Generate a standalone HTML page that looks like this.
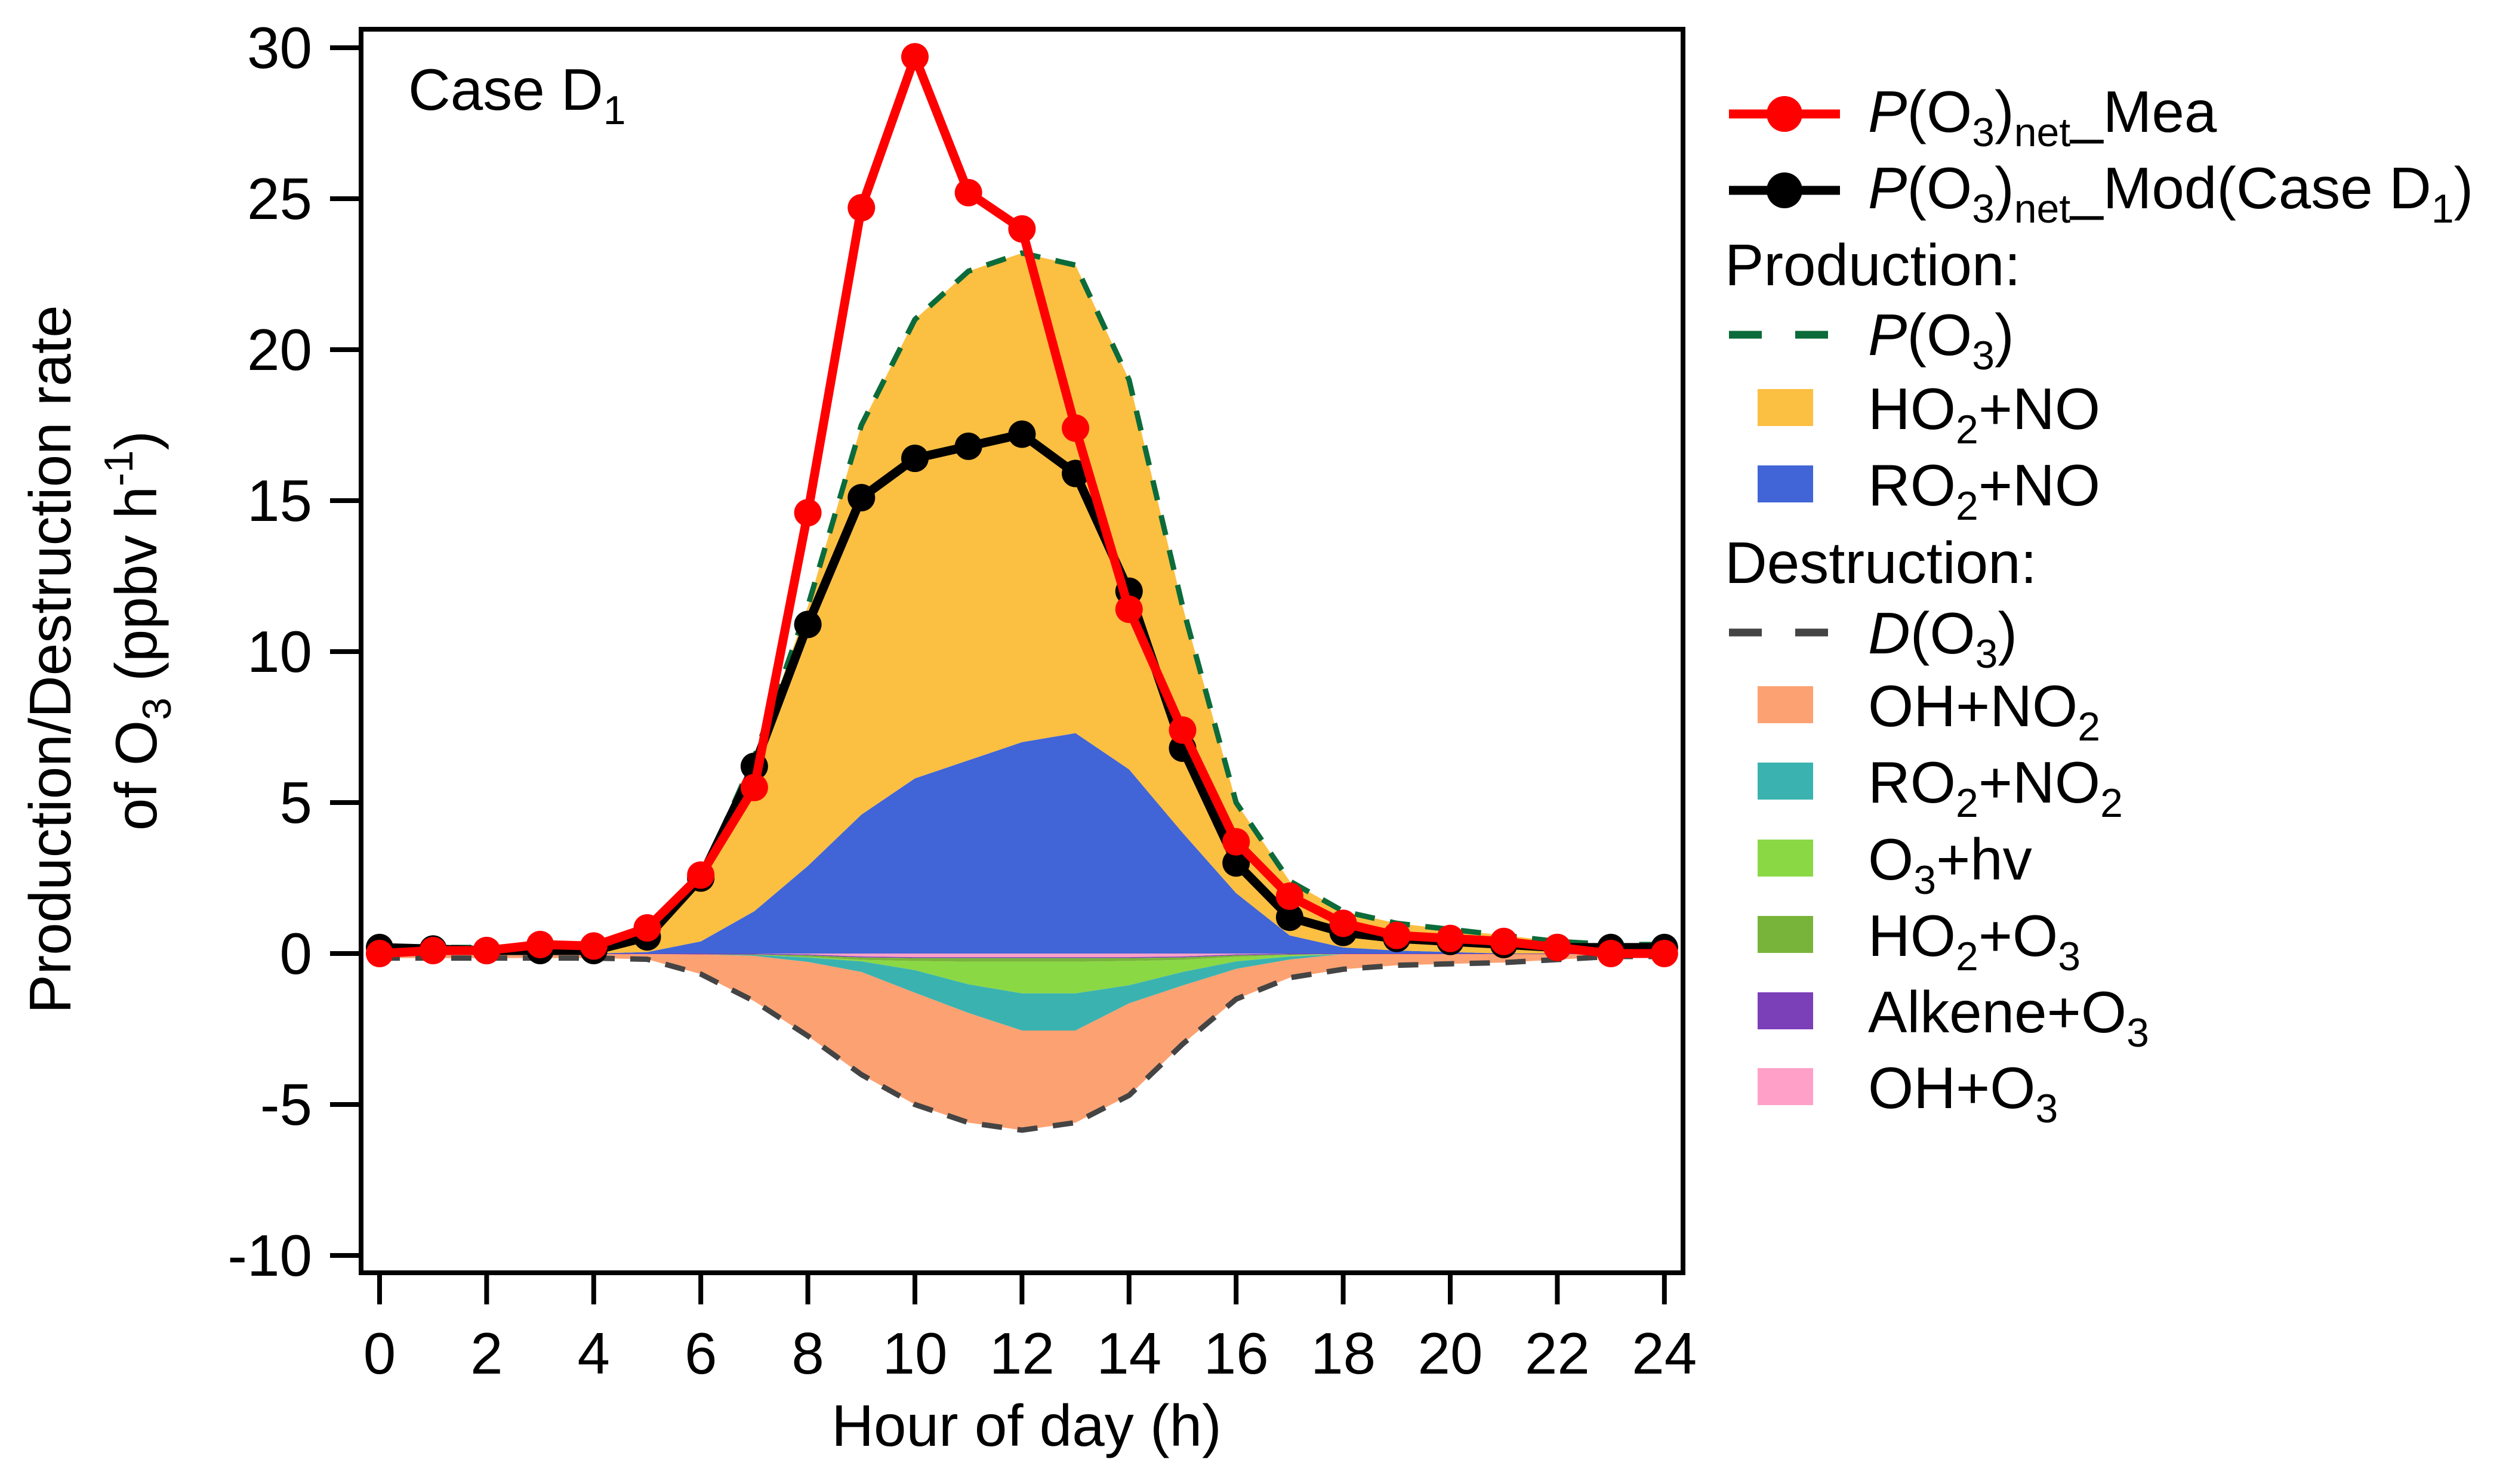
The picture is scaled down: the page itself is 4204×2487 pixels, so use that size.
<!DOCTYPE html>
<html><head><meta charset="utf-8"><style>
html,body{margin:0;padding:0;background:#fff}
svg text{font-family:"Liberation Sans",Arial,sans-serif;fill:#000}
</style></head><body>
<svg id="chart" width="4204" height="2482" viewBox="0 0 4204 2482" xmlns="http://www.w3.org/2000/svg">
<g id="plot"></g>
<g id="axes"></g>
<g id="legend"></g>
</svg>
<script>
const hours = [0,1,2,3,4,5,6,7,8,9,10,11,12,13,14,15,16,17,18,19,20,21,22,23,24];
const mea = [0,0.1,0.1,0.3,0.25,0.85,2.6,5.5,14.6,24.7,29.7,25.2,24.0,17.4,11.4,7.4,3.7,1.9,1.0,0.6,0.5,0.4,0.2,0,0];
const mod = [0.2,0.15,0.1,0.1,0.1,0.55,2.5,6.2,10.9,15.1,16.4,16.8,17.2,15.9,12.0,6.8,3.0,1.2,0.7,0.5,0.4,0.3,0.2,0.2,0.2];
const ro2no = [0,0,0,0,0,0.05,0.4,1.4,2.9,4.6,5.8,6.4,7.0,7.3,6.1,4.0,2.0,0.6,0.2,0.1,0.05,0,0,0,0];
const ho2no = [0.2,0.2,0.2,0.2,0.2,0.55,2.1,5.1,8.6,12.9,15.2,16.2,16.2,15.5,12.9,7.5,3.0,1.8,1.2,0.9,0.75,0.6,0.4,0.3,0.3];
const ohO3 = [0,0,0,0,0,0,0,0,0.03,0.1,0.12,0.12,0.12,0.12,0.12,0.1,0.03,0,0,0,0,0,0,0,0];
const alkO3 = [0.02,0.02,0.02,0.02,0.02,0.02,0.03,0.03,0.03,0.03,0.03,0.03,0.03,0.03,0.03,0.03,0.03,0.03,0.02,0.02,0.02,0.02,0.02,0.02,0.02];
const ho2O3 = [0,0,0,0,0,0,0,0.02,0.05,0.08,0.1,0.12,0.12,0.12,0.1,0.08,0.05,0.02,0,0,0,0,0,0,0];
const o3hv = [0,0,0,0,0,0,0,0,0.02,0.05,0.3,0.75,1.05,1.05,0.8,0.4,0.15,0.05,0,0,0,0,0,0,0];
const ro2no2 = [0,0,0,0,0,0,0,0.03,0.15,0.35,0.75,0.95,1.23,1.23,0.6,0.45,0.25,0.1,0,0,0,0,0,0,0];
const ohno2 = [0.13,0.13,0.13,0.13,0.13,0.17,0.65,1.5,2.45,3.4,3.7,3.63,3.3,3.05,3.05,1.94,1.0,0.6,0.5,0.37,0.32,0.28,0.18,0.08,0.08];
const yTicks = [30,25,20,15,10,5,0,-5,-10];
const xTicks = [0,2,4,6,8,10,12,14,16,18,20,22,24];

const NS="http://www.w3.org/2000/svg";
const X0=636, XS=89.7, Y0=1598, YS=50.6;
const xs=h=>X0+h*XS, ys=v=>Y0-v*YS;
function mk(tag,attrs,parent){const e=document.createElementNS(NS,tag);for(const k in attrs)e.setAttribute(k,attrs[k]);parent.appendChild(e);return e;}
const plot=document.getElementById('plot'), axes=document.getElementById('axes'), legend=document.getElementById('legend');

function band(lo,hi,color,name){
  let d='M'+hours.map((h,i)=>xs(h)+','+ys(hi[i])).join('L');
  for(let i=hours.length-1;i>=0;i--) d+='L'+xs(hours[i])+','+ys(lo[i]);
  const p=mk('path',{d:d+'Z',fill:color,stroke:'none'},plot);
  
  
}
const zero=hours.map(()=>0);
const pTop=ro2no.map((v,i)=>v+ho2no[i]);
band(zero,ro2no,'#4165D7','area-ro2-no');
band(ro2no,pTop,'#FBBF42','area-ho2-no');
const layers=[[ohO3,'#FFA0C8','area-oh-o3'],[alkO3,'#7B3FB8','area-alkene-o3'],[ho2O3,'#79B43A','area-ho2-o3'],[o3hv,'#8BD845','area-o3-hv'],[ro2no2,'#3AB3B0','area-ro2-no2'],[ohno2,'#FCA172','area-oh-no2']];
let cum=zero.slice();
for(const [arr,c,n] of layers){const nxt=cum.map((v,i)=>v-arr[i]);band(nxt,cum,c,n);cum=nxt;}
const dTot=cum;
function line(vals,attrs,name){
  const p=mk('polyline',Object.assign({points:hours.map((h,i)=>xs(h)+','+ys(vals[i])).join(' '),fill:'none'},attrs),plot);
  
  
}
line(pTop,{stroke:'#0B6B3A','stroke-width':9,'stroke-dasharray':'34 26'},'p-o3-dashed-line');
line(dTot,{stroke:'#444','stroke-width':9,'stroke-dasharray':'34 26'},'d-o3-dashed-line');
function series(vals,color,name){
  line(vals,{stroke:color,'stroke-width':15,'stroke-linejoin':'round'},name+'-line');
  hours.forEach((h,i)=>{const c=mk('circle',{cx:xs(h),cy:ys(vals[i]),r:23,fill:color},plot);
    
    });
}
series(mod,'#000','p-o3-net-mod');
series(mea,'#FF0000','p-o3-net-mea');

const fr=mk('rect',{x:605,y:49,width:2215,height:2084,fill:'none',stroke:'#000','stroke-width':8},axes);


yTicks.forEach(v=>{
  const t=mk('line',{x1:553,x2:605,y1:ys(v),y2:ys(v),stroke:'#000','stroke-width':8},axes);
  
  
  const l=mk('text',{x:523,y:ys(v)+34,'font-size':98,'text-anchor':'end'},axes);l.textContent=v;
  
  
});
xTicks.forEach(v=>{
  const t=mk('line',{x1:xs(v),x2:xs(v),y1:2133,y2:2186,stroke:'#000','stroke-width':8},axes);
  
  
  const l=mk('text',{x:xs(v),y:2302,'font-size':98,'text-anchor':'middle'},axes);l.textContent=v;
  
  
});
</script>
<script>
(function(){
const NS="http://www.w3.org/2000/svg";
const axes=document.getElementById('axes'), legend=document.getElementById('legend');
function txt(parent,x,y,html,attrs,name){
  const g=document.createElementNS(NS,'g');g.innerHTML='<text x="'+x+'" y="'+y+'" font-size="98" '+(attrs||'')+'>'+html+'</text>';
  const t=g.firstChild;parent.appendChild(t);
  
  
  return t;
}
const sub=s=>'<tspan font-size="68" baseline-shift="-24">'+s+'</tspan>';
txt(axes,1720,2423,'Hour of day (h)','text-anchor="middle"','x-axis-title');
txt(axes,0,0,'Production/Destruction rate','text-anchor="middle" transform="translate(118,1105) rotate(-90)"','y-axis-title-line1');
txt(axes,0,0,'of O'+sub('3')+' (ppbv h<tspan font-size="68" baseline-shift="40">-1</tspan>)','text-anchor="middle" transform="translate(262,1057) rotate(-90)"','y-axis-title-line2');
txt(axes,684,184,'Case D'+sub('1'),'','case-label');

const TX=3130;
function lg(tag,attrs,name){const e=document.createElementNS(NS,tag);for(const k in attrs)e.setAttribute(k,attrs[k]);legend.appendChild(e);
  
  return e;}
lg('line',{x1:2897,x2:3083,y1:191,y2:191,stroke:'#FF0000','stroke-width':15},'legend-mea-line');
lg('circle',{cx:2990,cy:191,r:30,fill:'#FF0000'},'legend-mea-marker');
txt(legend,TX,221,'<tspan font-style="italic">P</tspan>(O'+sub('3')+')'+sub('net')+'_Mea','','legend-mea-label');
lg('line',{x1:2897,x2:3083,y1:319,y2:319,stroke:'#000','stroke-width':15},'legend-mod-line');
lg('circle',{cx:2990,cy:319,r:30,fill:'#000'},'legend-mod-marker');
txt(legend,TX,349,'<tspan font-style="italic">P</tspan>(O'+sub('3')+')'+sub('net')+'_Mod(Case D'+sub('1')+')','','legend-mod-label');
txt(legend,2890,478,'Production:','','legend-production-heading');
lg('line',{x1:2897,x2:3063,y1:561,y2:561,stroke:'#0B6B3A','stroke-width':13,'stroke-dasharray':'55 56'},'legend-p-o3-line');
txt(legend,TX,595,'<tspan font-style="italic">P</tspan>(O'+sub('3')+')','','legend-p-o3-label');
const patches=[[719,'#FBBF42','HO'+sub('2')+'+NO','legend-ho2-no'],[847,'#4165D7','RO'+sub('2')+'+NO','legend-ro2-no']];
txt(legend,2890,977,'Destruction:','','legend-destruction-heading');
lg('line',{x1:2897,x2:3063,y1:1060,y2:1060,stroke:'#444','stroke-width':13,'stroke-dasharray':'55 56'},'legend-d-o3-line');
txt(legend,TX,1095,'<tspan font-style="italic">D</tspan>(O'+sub('3')+')','','legend-d-o3-label');
patches.push([1217,'#FCA172','OH+NO'+sub('2'),'legend-oh-no2'],[1345,'#3AB3B0','RO'+sub('2')+'+NO'+sub('2'),'legend-ro2-no2'],[1474,'#8BD845','O'+sub('3')+'+hv','legend-o3-hv'],[1602,'#79B43A','HO'+sub('2')+'+O'+sub('3'),'legend-ho2-o3'],[1730,'#7B3FB8','Alkene+O'+sub('3'),'legend-alkene-o3'],[1857,'#FFA0C8','OH+O'+sub('3'),'legend-oh-o3']);
patches.forEach(([b,c,h,n])=>{
  lg('rect',{x:2945,y:b-67,width:93,height:62,fill:c},n+'-swatch');
  txt(legend,TX,b,h,'',n+'-label');
});
})();
</script>
</body></html>
